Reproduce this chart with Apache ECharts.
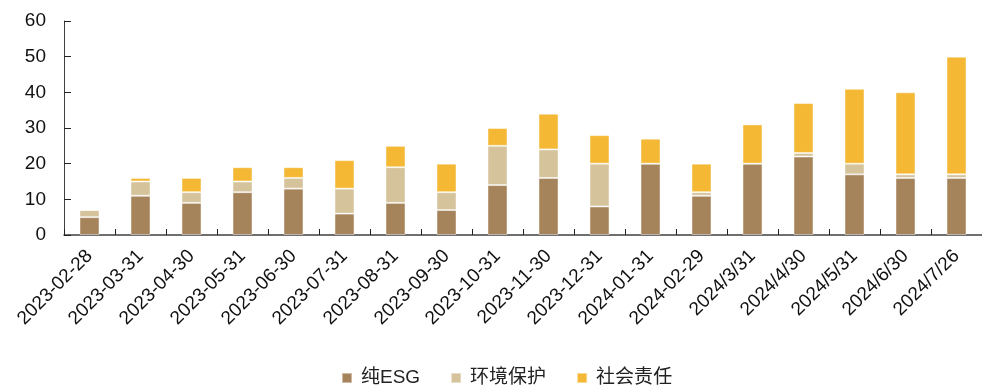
<!DOCTYPE html>
<html>
<head>
<meta charset="utf-8">
<script src="https://cdn.jsdelivr.net/npm/echarts@6/dist/echarts.min.js"></script>
<style>
  html, body { margin: 0; padding: 0; background: #ffffff; }
  #chart { width: 982px; height: 387px; }
</style>
</head>
<body>
<div id="chart"></div>
<script>
// Month-end reporting dates
const categories = [
  '2023-02-28', '2023-03-31', '2023-04-30', '2023-05-31', '2023-06-30',
  '2023-07-31', '2023-08-31', '2023-09-30', '2023-10-31', '2023-11-30',
  '2023-12-31', '2024-01-31', '2024-02-29', '2024/3/31', '2024/4/30',
  '2024/5/31', '2024/6/30', '2024/7/26'
];

// Stacked counts per theme
const pureEsg       = [5, 11, 9, 12, 13, 6, 9, 7, 14, 16, 8, 20, 11, 20, 22, 17, 16, 16];
const environmental = [2, 4, 3, 3, 3, 7, 10, 5, 11, 8, 12, 0, 1, 0, 1, 3, 1, 1];
const social        = [0, 1, 4, 4, 3, 8, 6, 8, 5, 10, 8, 7, 8, 11, 14, 21, 23, 33];

const seriesNames = ['纯ESG', '环境保护', '社会责任'];
const yTicks = { min: 0, max: 60, interval: 10 };

const colors = ['#A6845B', '#D5C39B', '#F4B834'];
const font = '"Liberation Sans", Arial, "Noto Sans CJK SC", sans-serif';

const chart = echarts.init(document.getElementById('chart'), null, { renderer: 'canvas' });

function barSeries(name, data, color) {
  return {
    name: name,
    type: 'bar',
    stack: 'total',
    data: data,
    barWidth: 20,
    itemStyle: {
      color: color,
      borderColor: 'rgba(255,255,255,0.45)',
      borderWidth: 1
    }
  };
}

chart.setOption({
  animation: false,
  color: colors,
  textStyle: { fontFamily: font },
  grid: { left: 64, top: 21, width: 920, bottom: 152, containLabel: false },
  legend: {
    data: seriesNames,
    left: 341,
    top: 368,
    icon: 'rect',
    itemWidth: 10,
    itemHeight: 10,
    itemGap: 30,
    padding: 0,
    textStyle: { fontSize: 19, lineHeight: 20, color: '#222', fontFamily: font, padding: [0, 0, 0, 4] }
  },
  xAxis: {
    type: 'category',
    data: categories,
    axisLine: { lineStyle: { color: '#404040', width: 1.5 } },
    axisTick: { show: true, inside: true, length: 6, alignWithLabel: false, lineStyle: { color: '#222' } },
    axisLabel: {
      interval: 0,
      rotate: 45,
      margin: 18,
      fontSize: 19,
      color: '#111',
      fontFamily: font
    }
  },
  yAxis: {
    type: 'value',
    min: yTicks.min,
    max: yTicks.max,
    interval: yTicks.interval,
    splitLine: { show: false },
    axisLine: { show: true, lineStyle: { color: '#404040', width: 1 } },
    axisTick: { show: true, inside: true, length: 7, lineStyle: { color: '#222' } },
    axisLabel: { fontSize: 19, color: '#111', margin: 18, fontFamily: font }
  },
  series: [
    barSeries(seriesNames[0], pureEsg, colors[0]),
    barSeries(seriesNames[1], environmental, colors[1]),
    barSeries(seriesNames[2], social, colors[2])
  ]
});
</script>
</body>
</html>
